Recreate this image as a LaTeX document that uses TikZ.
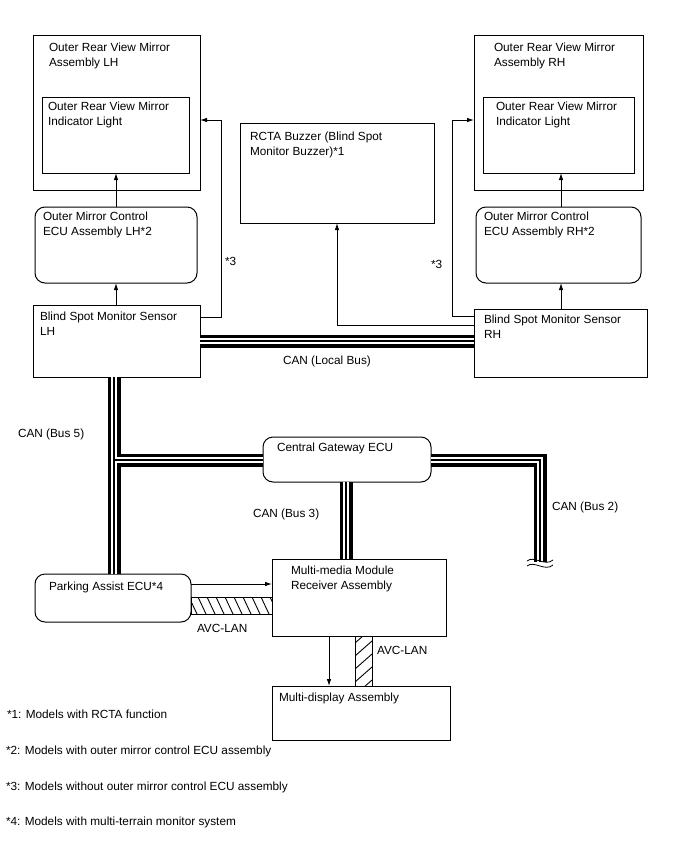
\documentclass[tikz,border=0pt]{standalone}
\usepackage{fontspec}
\setmainfont{Liberation Sans}
\usetikzlibrary{arrows.meta}
\newcommand\canbus[1]{\draw[busA] #1; \draw[busB] #1; \draw[busC] #1;}
\begin{document}
\begin{tikzpicture}[x=1pt,y=-1pt,
  box/.style={draw, line width=1pt, inner sep=0pt, outer sep=0pt, anchor=north west},
  rbox/.style={box, rounded corners=10pt},
  txt/.style={anchor=base west, inner sep=0pt, outer sep=0pt, align=left, font=\fontsize{11.8}{15}\selectfont},
  arr/.style={line width=0.9pt, -{Latex[length=7pt,width=4.5pt]}},
  conn/.style={line width=0.9pt},
  busA/.style={line width=13pt, black, line cap=butt},
  busB/.style={line width=6.5pt, white, line cap=butt},
  busC/.style={line width=2.2pt, black, line cap=butt},
  hatch/.style={line width=0.9pt}]
\path[use as bounding box] (0,0) rectangle (688,852);

% boxes
\node[box, minimum width=167pt, minimum height=155pt] (lhout) at (33,35) {};
\node[box, minimum width=147pt, minimum height=76pt] (lhin) at (42,97) {};
\node[rbox, minimum width=162pt, minimum height=76pt] (ecul) at (35,207) {};
\node[box, minimum width=167pt, minimum height=72pt] (bsl) at (33,305) {};
\node[box, minimum width=194pt, minimum height=100pt] (rcta) at (240,123) {};
\node[box, minimum width=169pt, minimum height=155pt] (rhout) at (474,35) {};
\node[box, minimum width=151pt, minimum height=76pt] (rhin) at (483,97) {};
\node[rbox, minimum width=165pt, minimum height=76pt] (ecur) at (476,207) {};
\node[box, minimum width=173pt, minimum height=68pt] (bsr) at (474,309) {};
\node[rbox, minimum width=168pt, minimum height=45pt] (cg) at (263,437) {};
\node[box, minimum width=174pt, minimum height=77pt] (mm) at (272,559) {};
\node[rbox, minimum width=156pt, minimum height=48pt] (pa) at (35,574) {};
\node[box, minimum width=178pt, minimum height=54pt] (md) at (272,686) {};

% texts (two-line nodes: base anchor is on the last line)
\node[txt] (tlhout) at (49,66) {Outer Rear View Mirror\\Assembly LH};
\node[txt] (tlhin) at (48,125) {Outer Rear View Mirror\\Indicator Light};
\node[txt] (tecul) at (43,235) {Outer Mirror Control\\ECU Assembly LH*2};
\node[txt] (tbsl) at (40,335) {Blind Spot Monitor Sensor\\LH};
\node[txt] (trcta) at (250,155) {RCTA Buzzer (Blind Spot\\Monitor Buzzer)*1};
\node[txt] (trhout) at (494,66) {Outer Rear View Mirror\\Assembly RH};
\node[txt] (trhin) at (496,125) {Outer Rear View Mirror\\Indicator Light};
\node[txt] (tecur) at (484,235) {Outer Mirror Control\\ECU Assembly RH*2};
\node[txt] (tbsr) at (484,338) {Blind Spot Monitor Sensor\\RH};
\node[txt] (tcg) at (277,451) {Central Gateway ECU};
\node[txt] (tmm) at (291,589) {Multi-media Module\\Receiver Assembly};
\node[txt] (tpa) at (49,590) {Parking Assist ECU*4};
\node[txt] (tmd) at (279,701) {Multi-display Assembly};

% labels
\node[txt] (l3l) at (225,265) {*3};
\node[txt] (l3r) at (431,268) {*3};
\node[txt] (llocal) at (283,364) {CAN (Local Bus)};
\node[txt] (lb5) at (18,437) {CAN (Bus 5)};
\node[txt] (lb3) at (253,517) {CAN (Bus 3)};
\node[txt] (lb2) at (552,510) {CAN (Bus 2)};
\node[txt] (lavc1) at (197,632) {AVC-LAN};
\node[txt] (lavc2) at (377,654) {AVC-LAN};

% footnotes
\node[txt] (f1) at (7,718) {*1: Models with RCTA function};
\node[txt] (f2) at (6,754) {*2: Models with outer mirror control ECU assembly};
\node[txt] (f3) at (6,790) {*3: Models without outer mirror control ECU assembly};
\node[txt] (f4) at (6,825) {*4: Models with multi-terrain monitor system};

% helper coordinates
\coordinate (c3l) at (221,317);
\coordinate (c3lt) at (221,120);
\coordinate (c3r) at (452,316);
\coordinate (c3rt) at (452,120);
\coordinate (rc) at (337,325);
\coordinate (ar) at (561,0);
\coordinate (pm) at (0,584);
\coordinate (mmd) at (329,0);
\coordinate (lb) at (0,341);
\coordinate (b5) at (114,0);
\coordinate (b5h) at (0,460);
\coordinate (b3) at (346,0);
\coordinate (b2end) at (540,562);
\coordinate (h1) at (0,597);
\coordinate (h2) at (0,614);
\coordinate (v1) at (355,0);
\coordinate (v2) at (372,0);

% arrows
\draw[arr] (ecul.north) -- (ecul.north |- lhin.south);
\draw[arr] (ecul.south |- bsl.north) -- (ecul.south);
\draw[arr] (bsl.east |- c3l) -- (c3l) -- (c3lt) -- (lhout.east |- c3lt);
\draw[arr] (bsr.west |- rc) -- (rc) -- (rcta.south -| rc);
\draw[arr] (bsr.west |- c3r) -- (c3r) -- (c3rt) -- (rhout.west |- c3rt);
\draw[arr] (bsr.north -| ar) -- (ecur.south -| ar);
\draw[arr] (ecur.north -| ar) -- (rhin.south -| ar);
\draw[arr] (pm -| pa.east) -- (pm -| mm.west);
\draw[arr] (mmd |- mm.south) -- (mmd |- md.north);

% CAN buses
\canbus{(lb -| bsl.east) -- (lb -| bsr.west)}
\canbus{(b5 |- bsl.south) -- (b5 |- pa.north) (b5h -| b5) -- (b5h -| cg.west)}
\canbus{(b3 |- cg.south) -- (b3 |- mm.north)}
\canbus{(b5h -| cg.east) -| (b2end)}
\draw[conn, line width=0.8pt] (527,561) .. controls (534,555) and (545,567) .. (553,560);
\draw[conn, line width=0.8pt] (527,566) .. controls (534,560) and (545,572) .. (553,565);

% AVC-LAN hatched bars
\draw[conn] (h1 -| pa.east) rectangle (h2 -| mm.west);
\begin{scope}
\clip (h1 -| pa.east) rectangle (h2 -| mm.west);
\foreach \x in {180,189,...,280} \draw[hatch] (\x,597) -- ++(8,17);
\end{scope}
\draw[conn] (v1 |- mm.south) rectangle (v2 |- md.north);
\begin{scope}
\clip (v1 |- mm.south) rectangle (v2 |- md.north);
\foreach \y in {630,643,...,710} \draw[hatch] (355,\y) -- ++(17,-15);
\end{scope}
\end{tikzpicture}
\end{document}
